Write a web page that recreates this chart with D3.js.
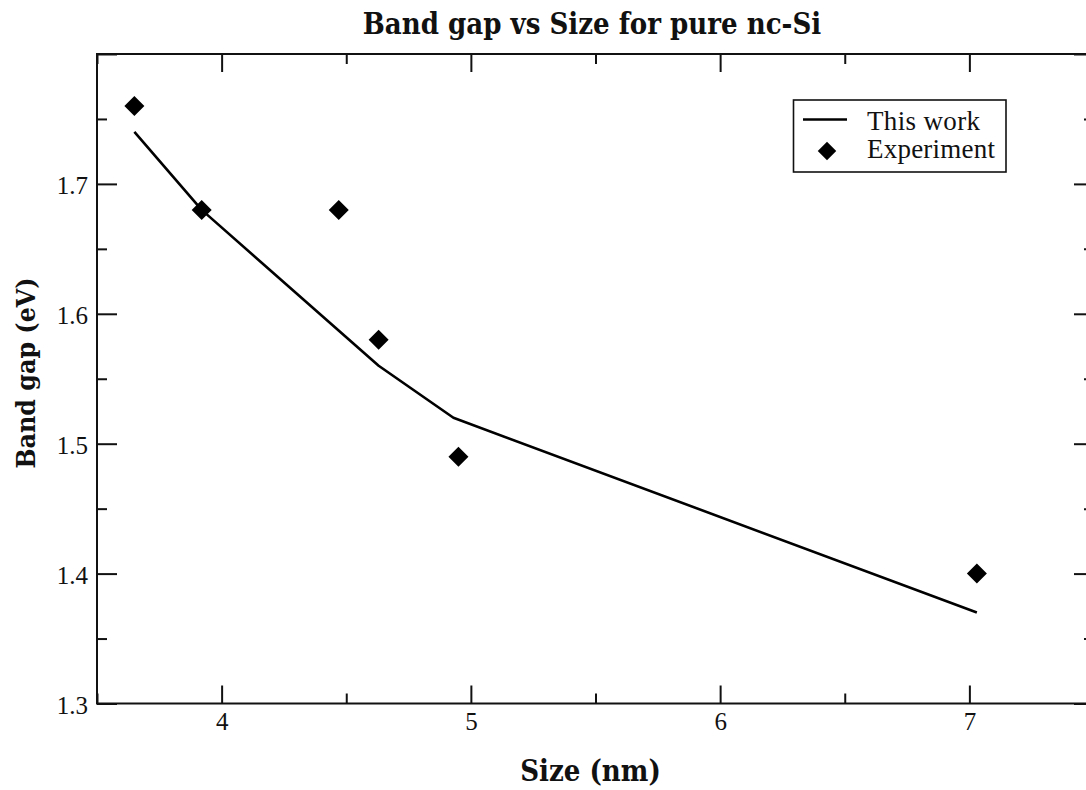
<!DOCTYPE html>
<html>
<head>
<meta charset="utf-8">
<script src="https://cdn.jsdelivr.net/npm/d3@7"></script>
<style>
  html, body { margin: 0; padding: 0; background: #fff; }
  svg { display: block; }
</style>
</head>
<body>
<svg id="chart" width="1086" height="790"></svg>
<script>
// Experimental band gaps (eV) against nanocrystal size (nm)
const expSizes = [3.65, 3.92, 4.47, 4.63, 4.95, 7.03];
const experimentGap = [1.76, 1.68, 1.68, 1.58, 1.49, 1.40];
// Calculated band gaps (eV) against nanocrystal size (nm)
const calcSizes = [3.65, 3.92, 4.63, 4.93, 7.03];
const thisWorkGap = [1.74, 1.68, 1.56, 1.52, 1.37];

const xMajorTicks = [4, 5, 6, 7];
const xMinorTicks = [3.5, 4.5, 5.5, 6.5, 7.5];
const yMajorTicks = [1.3, 1.4, 1.5, 1.6, 1.7, 1.8];
const yMinorTicks = [1.35, 1.45, 1.55, 1.65, 1.75];
const yTickLabels = ["1.3", "1.4", "1.5", "1.6", "1.7", ""];

const legendLabels = ["This work", "Experiment"];

const svg = d3.select("#chart");
const plotLeft = 97, plotRight = 1094, plotTop = 54, plotBottom = 703.5;

const x = d3.scaleLinear().domain([3.5, 7.5]).range([plotLeft, plotRight]);
const y = d3.scaleLinear().domain([1.3, 1.8]).range([plotBottom, plotTop]);

const serif = "'Liberation Serif', 'Times New Roman', serif";
const boldSerif = "'DejaVu Serif Condensed', 'DejaVu Serif', serif";
const ink = "#111";

// inward ticks on all four sides
function tickAxis(axis, tr, size, ticks) {
  const g = svg.append("g").attr("transform", tr)
    .call(axis.tickValues(ticks).tickSize(size).tickFormat(""));
  g.select(".domain").remove();
  g.selectAll("line").attr("stroke", ink).attr("stroke-width", 2);
  return g;
}
tickAxis(d3.axisBottom(x), `translate(0,${plotBottom})`, -18, xMajorTicks);
tickAxis(d3.axisBottom(x), `translate(0,${plotBottom})`, -10, xMinorTicks);
tickAxis(d3.axisTop(x), `translate(0,${plotTop})`, -18, xMajorTicks);
tickAxis(d3.axisTop(x), `translate(0,${plotTop})`, -10, xMinorTicks);
tickAxis(d3.axisLeft(y), `translate(${plotLeft},0)`, -20, yMajorTicks);
tickAxis(d3.axisLeft(y), `translate(${plotLeft},0)`, -10, yMinorTicks);
tickAxis(d3.axisRight(y), `translate(${plotRight},0)`, -20, yMajorTicks);
tickAxis(d3.axisRight(y), `translate(${plotRight},0)`, -10, yMinorTicks);

// tick labels
const xLab = svg.append("g").attr("transform", `translate(0,${plotBottom})`)
  .call(d3.axisBottom(x).tickValues(xMajorTicks).tickSize(0).tickPadding(9).tickFormat(d3.format("d")));
xLab.select(".domain").remove();
xLab.selectAll("text").attr("font-family", serif).attr("font-size", 25).attr("fill", ink);

const yLab = svg.append("g").attr("transform", `translate(${plotLeft},0)`)
  .call(d3.axisLeft(y).tickValues(yMajorTicks).tickSize(0).tickPadding(9)
    .tickFormat((d, i) => yTickLabels[i]));
yLab.select(".domain").remove();
yLab.selectAll("text").attr("font-family", serif).attr("font-size", 25).attr("fill", ink).attr("dy", "0.4em");

// frame
svg.append("rect")
  .attr("x", plotLeft).attr("y", plotTop)
  .attr("width", plotRight - plotLeft).attr("height", plotBottom - plotTop)
  .attr("fill", "none").attr("stroke", ink).attr("stroke-width", 2);

// calculated curve
const line = d3.line().x((d, i) => x(calcSizes[i])).y(d => y(d));
svg.append("path")
  .datum(thisWorkGap)
  .attr("d", line)
  .attr("fill", "none").attr("stroke", "#000").attr("stroke-width", 2.6)
  .attr("stroke-linejoin", "round");

// experimental points
const diamond = d3.symbol().type(d3.symbolSquare).size(200);
svg.append("g").selectAll("path")
  .data(experimentGap)
  .join("path")
  .attr("d", diamond)
  .attr("transform", (d, i) => `translate(${x(expSizes[i])},${y(d)}) rotate(45)`)
  .attr("fill", "#000");

// legend
const lg = svg.append("g");
lg.append("rect").attr("x", 793.5).attr("y", 100).attr("width", 212.5).attr("height", 72)
  .attr("fill", "#fff").attr("stroke", ink).attr("stroke-width", 1.6);
lg.append("line").attr("x1", 803).attr("x2", 847).attr("y1", 119.5).attr("y2", 119.5)
  .attr("stroke", "#000").attr("stroke-width", 2.6);
lg.append("path").attr("d", d3.symbol().type(d3.symbolSquare).size(170)())
  .attr("transform", "translate(827,151) rotate(45)").attr("fill", "#000");
lg.selectAll("text.lab").data(legendLabels).join("text")
  .attr("class", "lab")
  .attr("x", 867).attr("y", (d, i) => 130 + i * 27.5)
  .attr("font-family", serif).attr("font-size", 27).attr("fill", ink)
  .attr("textLength", (d, i) => i === 0 ? 113 : 128).attr("lengthAdjust", "spacing")
  .text(d => d);

// titles
svg.append("text").attr("x", 592).attr("y", 34).attr("text-anchor", "middle")
  .attr("font-family", boldSerif).attr("font-weight", "bold").attr("font-size", 29).attr("fill", ink)
  .text("Band gap vs Size for pure nc-Si");
svg.append("text").attr("x", 590.5).attr("y", 781).attr("text-anchor", "middle")
  .attr("font-family", boldSerif).attr("font-weight", "bold").attr("font-size", 29).attr("fill", ink)
  .text("Size (nm)");
svg.append("text").attr("transform", "translate(35,373) rotate(-90)").attr("text-anchor", "middle")
  .attr("font-family", boldSerif).attr("font-weight", "bold").attr("font-size", 26.5).attr("fill", ink)
  .text("Band gap (eV)");
</script>
</body>
</html>
